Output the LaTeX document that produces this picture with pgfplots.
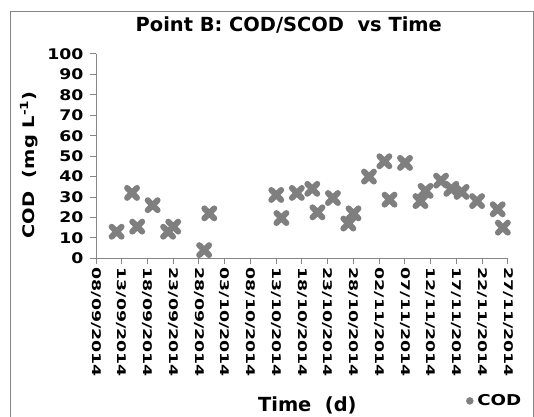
\documentclass[border=0pt]{standalone}
\usepackage{fontspec}
\setmainfont{DejaVu Sans}
\newfontfamily\ytfont{DejaVu Sans}[FakeStretch=1.18]
\newfontfamily\xtfont{DejaVu Sans}[FakeStretch=1.45]
\newfontfamily\lblfont{DejaVu Sans}[FakeStretch=1.22]
\usepackage{pgfplots}
\usepackage{pgfplotstable}
\pgfplotsset{compat=1.18}
\definecolor{axgray}{HTML}{868686}
\definecolor{markgray}{HTML}{7F7F7F}

% day 0 = 08/09/2014
\pgfplotstableread{
day cod
4  13
7  32
8  15.5
11 26
14 13
15 15.5
21 4
22 22
35 31
36 19.7
39 32
42 34
43 22.5
46 29.5
49 17
50 22
53 40
56 47.5
57 28.7
60 46.7
63 28
64 33
67 38
69 34
71 32.5
74 28
78 24
79 15
}\codtable

\begin{document}
\begin{tikzpicture}
\useasboundingbox (0,0) rectangle (534bp,417bp);
\draw[axgray, line width=1bp] (10bp,0) -- (10bp,405bp) -- (533bp,405bp) -- (533bp,0);
\begin{axis}[
  at={(96bp,158.7bp)}, anchor=south west,
  scale only axis, width=412bp, height=204.3bp,
  xmin=0, xmax=80, ymin=0, ymax=100,
  clip=false,
  axis x line=bottom, axis y line=left,
  axis line style={-, axgray, line width=1bp},
  tick style={axgray, line width=1bp},
  tick align=outside, major tick length=6bp,
  xtick={0,5,...,80},
  xticklabels={08/09/2014,13/09/2014,18/09/2014,23/09/2014,28/09/2014,03/10/2014,08/10/2014,13/10/2014,18/10/2014,23/10/2014,28/10/2014,02/11/2014,07/11/2014,12/11/2014,17/11/2014,22/11/2014,27/11/2014},
  xticklabel style={rotate=-90, anchor=west, font=\xtfont\bfseries\fontsize{12}{12}\selectfont},
  ytick={0,10,...,100},
  yticklabel style={font=\ytfont\bfseries\fontsize{14.7}{15}\selectfont, xshift=-3bp},
  /pgf/number format/assume math mode=true,
  title={Point B: COD/SCOD\ \ vs Time},
  title style={at={(0.468,1.083)}, anchor=base, font=\bfseries\fontsize{19.5}{20}\selectfont},
  xlabel={Time\ \ (d)},
  xlabel style={at={(0.513,-0.751)}, anchor=base, font=\bfseries\fontsize{19.5}{20}\selectfont},
  ylabel={COD\ \ (mg L\textsuperscript{-1})},
  ylabel style={at={(-0.163,0.457)}, anchor=center, font=\lblfont\bfseries\fontsize{16}{16}\selectfont},
  legend style={at={(0.968,-0.698)}, anchor=center, draw=none, fill=none,
    font=\lblfont\bfseries\fontsize{15}{15}\selectfont, inner sep=0pt},
  legend cell align=left,
]
\addplot[only marks, mark=x, mark size=7bp,
  mark options={markgray, line width=6bp, line cap=round}, forget plot]
  table[x=day, y=cod] {\codtable};
\addlegendimage{only marks, mark=*, mark size=3.5bp, mark options={markgray, draw=markgray}}
\addlegendentry{\hspace{2bp}COD}
\end{axis}
\end{tikzpicture}
\end{document}
